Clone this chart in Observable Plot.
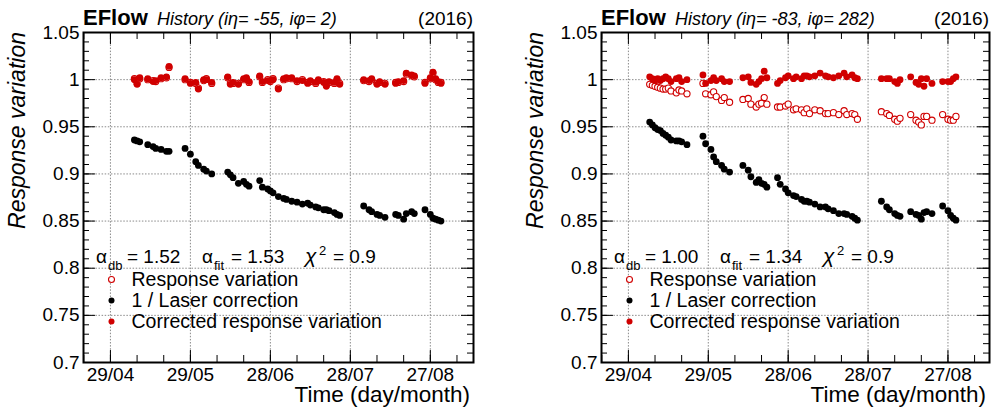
<!DOCTYPE html>
<html><head><meta charset="utf-8">
<script src="https://cdn.jsdelivr.net/npm/d3@7"></script>
<script src="https://cdn.jsdelivr.net/npm/@observablehq/plot@0.6"></script>
<style>
body{margin:0;background:#fff;}
#wrap{position:relative;width:993px;height:412px;font-family:"Liberation Sans",Arial,sans-serif;}
#wrap svg{position:absolute;top:0;overflow:visible;}
</style></head><body><div id="wrap"></div>
<script>
// ---------- data ----------
const startDate = "2016-04-29";           // day 0
const tickDays = [0, 30, 60, 90, 120];
const tickLabels = ["29/04", "29/05", "28/06", "28/07", "27/08"];
const yTicks = [0.7, 0.75, 0.8, 0.85, 0.9, 0.95, 1.0, 1.05];
const yTickLabels = ["0.7", "0.75", "0.8", "0.85", "0.9", "0.95", "1", "1.05"];

// left panel (iη=-55, iφ=2)
const leftDays = [9,10,11,14,16,17,19,21,22,28,30,32,33,35,36,38,44,45,46,48,50,51,52,56,57,59,60,61,63,65,66,68,70,72,74,75,77,78,80,81,82,84,85,86,95,97,98,100,101,103,107,108,110,111,113,114,118,120,121,122,123,124];
const leftLaser = [0.936,0.935,0.934,0.931,0.929,0.927,0.926,0.924,0.924,0.927,0.921,0.913,0.909,0.905,0.903,0.900,0.902,0.899,0.896,0.890,0.892,0.889,0.887,0.893,0.886,0.884,0.882,0.880,0.876,0.874,0.873,0.871,0.870,0.868,0.869,0.867,0.865,0.864,0.862,0.862,0.861,0.859,0.857,0.856,0.866,0.862,0.860,0.857,0.856,0.854,0.857,0.856,0.852,0.858,0.860,0.858,0.862,0.857,0.853,0.852,0.851,0.850];
const leftResponse = [1.001,0.996,1.001,1.000,0.999,0.998,1.001,1.002,1.013,1.000,0.997,0.996,0.991,0.999,1.001,0.996,1.002,0.996,0.996,0.996,1.000,1.001,0.997,1.003,0.997,1.000,0.998,1.001,0.991,1.000,1.001,1.001,0.998,1.000,0.997,0.998,0.996,0.999,0.998,0.994,0.997,0.996,1.000,0.996,0.999,0.998,1.000,0.996,0.997,0.996,0.997,0.997,0.998,1.006,1.004,1.003,0.997,1.001,1.007,1.000,0.997,0.997];
const leftCorrected = [1.000,0.995,1.002,1.001,0.998,0.999,1.002,1.003,1.014,1.001,0.996,0.997,0.990,1.000,1.000,0.997,1.003,0.995,0.997,0.995,1.001,1.002,0.998,1.004,0.998,0.999,0.999,1.000,0.990,1.001,1.002,1.002,0.999,0.999,0.996,0.999,0.997,1.000,0.997,0.993,0.998,0.997,1.001,0.995,1.000,0.999,1.001,0.995,0.998,0.995,0.996,0.998,0.999,1.007,1.005,1.004,0.996,1.002,1.008,1.001,0.998,0.996];

// right panel (iη=-83, iφ=282)
const rightDays = [8,9,10,11,12,13,14,15,16,18,19,20,22,28,29,31,32,33,35,36,38,43,45,46,48,49,50,51,52,56,57,59,60,62,63,65,66,67,68,70,72,74,75,77,79,81,82,84,85,86,95,97,98,100,101,102,106,108,109,110,111,112,114,118,120,121,122,123];
const rightLaser = [0.955,0.952,0.949,0.947,0.946,0.943,0.941,0.939,0.936,0.935,0.935,0.934,0.931,0.940,0.932,0.926,0.918,0.913,0.909,0.905,0.902,0.909,0.904,0.897,0.891,0.894,0.890,0.889,0.886,0.896,0.889,0.884,0.880,0.877,0.876,0.873,0.871,0.871,0.870,0.868,0.865,0.865,0.863,0.861,0.858,0.858,0.857,0.855,0.853,0.851,0.871,0.865,0.862,0.858,0.856,0.855,0.860,0.857,0.856,0.852,0.859,0.860,0.858,0.866,0.861,0.856,0.853,0.851];
const rightResponse = [0.995,0.994,0.993,0.992,0.991,0.990,0.990,0.991,0.988,0.986,0.989,0.988,0.985,0.996,0.985,0.984,0.987,0.982,0.978,0.981,0.976,0.979,0.980,0.974,0.971,0.974,0.975,0.981,0.974,0.971,0.971,0.972,0.974,0.968,0.969,0.968,0.965,0.969,0.964,0.968,0.967,0.964,0.964,0.965,0.963,0.967,0.963,0.964,0.963,0.958,0.966,0.964,0.962,0.958,0.956,0.959,0.963,0.957,0.955,0.952,0.961,0.961,0.957,0.963,0.958,0.957,0.957,0.961];
const rightCorrected = [1.003,1.001,0.999,1.001,0.999,1.001,1.003,1.001,0.998,1.001,1.002,0.998,1.000,1.005,0.996,0.999,1.002,0.999,1.001,0.998,0.998,1.002,1.003,0.997,0.995,0.998,1.001,1.009,1.002,0.996,0.999,1.002,1.004,1.001,1.003,1.001,1.004,1.004,1.003,1.004,1.007,1.004,1.003,1.002,1.004,1.007,1.003,1.005,1.002,1.001,1.001,1.001,1.001,0.998,0.996,1.000,1.003,0.997,0.995,1.001,0.993,1.001,0.996,0.998,0.998,0.998,1.001,1.003];

const panels = [
  {left: 0, width: 500, marginRight: 27, xMax: 136.2, days: leftDays, laser: leftLaser, response: leftResponse, corrected: leftCorrected,
   eta: "-55", phi: "2", adb: "1.52", afit: "1.53", chi2: "0.9"},
  {left: 518, width: 475, marginRight: 4, xMax: 135.6, days: rightDays, laser: rightLaser, response: rightResponse, corrected: rightCorrected,
   eta: "-83", phi: "282", adb: "1.00", afit: "1.34", chi2: "0.9"}
];

// ---------- drawing ----------
const RED = "#d00000";
const FONT = '"Liberation Sans", Arial, Helvetica, sans-serif';
const base = new Date(startDate + "T00:00:00Z").getTime();
const toDate = d => new Date(base + d * 864e5);
const yMinor = d3.range(70, 106).map(v => v / 100);
const xMinor = d3.range(-10, 140, 10);
const ML = 83, MT = 32, MB = 50, H = 412;

for (const p of panels) {
  const fw = p.width - ML - p.marginRight, fh = H - MT - MB;
  const rows = p.days.map((d, i) => ({t: toDate(d), laser: p.laser[i], response: p.response[i], corrected: p.corrected[i]}));
  const grid = {stroke: "#8a8a8a", strokeDasharray: "1.5,1.6", strokeWidth: 1};
  const svg = Plot.plot({
    width: p.width, height: H,
    marginLeft: ML, marginRight: p.marginRight, marginTop: MT, marginBottom: MB,
    style: {fontFamily: FONT, fontSize: "19px", color: "#000", background: "transparent", overflow: "visible"},
    x: {type: "utc", domain: [toDate(-10.1), toDate(p.xMax)]},
    y: {domain: [0.7, 1.05]},
    marks: [
      Plot.ruleX(tickDays.map(toDate), grid),
      Plot.ruleY(yTicks, grid),
      Plot.ruleY(yMinor, {y: d => d, insetRight: fw - 6, stroke: "#000"}),
      Plot.ruleY(yMinor, {y: d => d, insetLeft: fw - 6, stroke: "#000"}),
      Plot.ruleY(yTicks, {y: d => d, insetRight: fw - 12, stroke: "#000"}),
      Plot.ruleY(yTicks, {y: d => d, insetLeft: fw - 12, stroke: "#000"}),
      Plot.ruleX(xMinor.map(toDate), {x: d => d, insetTop: fh - 7, stroke: "#000"}),
      Plot.ruleX(xMinor.map(toDate), {x: d => d, insetBottom: fh - 7, stroke: "#000"}),
      Plot.ruleX(tickDays.map(toDate), {x: d => d, insetTop: fh - 12, stroke: "#000"}),
      Plot.ruleX(tickDays.map(toDate), {x: d => d, insetBottom: fh - 12, stroke: "#000"}),
      Plot.axisY(yTicks, {tickSize: 0, tickPadding: 4, tickFormat: (d) => yTickLabels[yTicks.indexOf(d)], label: null, fontSize: 19}),
      Plot.axisX(tickDays.map(toDate), {tickSize: 0, tickPadding: 5, tickFormat: (d) => tickLabels[tickDays.indexOf(Math.round((d - base) / 864e5))], label: null, fontSize: 19}),
      Plot.dot(rows, {x: "t", y: "response", r: 3.1, stroke: RED, strokeWidth: 1.1, fill: "white"}),
      Plot.dot(rows, {x: "t", y: "laser", r: 3.4, fill: "#000", stroke: "none"}),
      Plot.dot(rows, {x: "t", y: "corrected", r: 3.4, fill: RED, stroke: "none"}),
      Plot.frame({stroke: "#000", strokeWidth: 2})
    ]
  });
  svg.style.left = p.left + "px";
  document.getElementById("wrap").appendChild(svg);

  const s = d3.select(svg);
  const g = s.append("g").attr("font-family", FONT).attr("fill", "#000").attr("text-anchor", "start");
  // title
  const t = g.append("text").attr("x", ML).attr("y", 25);
  t.append("tspan").attr("font-weight", "bold").attr("font-size", 22).text("EFlow");
  t.append("tspan").attr("x", ML + 74).attr("font-style", "italic").attr("font-size", 18)
    .text(`History (i\u03B7= ${p.eta}, i\u03C6= ${p.phi})`);
  g.append("text").attr("x", p.width - p.marginRight).attr("y", 25).attr("text-anchor", "end")
    .attr("font-size", 19).text("(2016)");
  // axis titles
  g.append("text").attr("transform", `translate(25,${MT}) rotate(-90)`).attr("text-anchor", "end")
    .attr("font-style", "italic").attr("font-size", 23).text("Response variation");
  g.append("text").attr("x", p.width - p.marginRight - 3).attr("y", 402).attr("text-anchor", "end")
    .attr("font-size", 22.5).text("Time (day/month)");
  // fit annotation
  const a = g.append("text").attr("y", 263).attr("font-size", 19);
  a.append("tspan").attr("x", ML + 13).text("\u03B1");
  a.append("tspan").attr("x", ML + 25).attr("dy", 7).attr("font-size", 13).text("db");
  a.append("tspan").attr("x", ML + 44).attr("dy", -7).text(`= ${p.adb}`);
  a.append("tspan").attr("x", ML + 119).text("\u03B1");
  a.append("tspan").attr("x", ML + 131).attr("dy", 7).attr("font-size", 13).text("fit");
  a.append("tspan").attr("x", ML + 148).attr("dy", -7).text(`= ${p.afit}`);
  a.append("tspan").attr("x", ML + 222).attr("font-style", "italic").attr("font-size", 21).text("\u03C7");
  a.append("tspan").attr("x", ML + 236).attr("dy", -8).attr("font-size", 13).text("2");
  a.append("tspan").attr("x", ML + 250).attr("dy", 8).text(`= ${p.chi2}`);
  // legend
  const items = [
    {label: "Response variation", fill: "white", stroke: RED},
    {label: "1 / Laser correction", fill: "#000", stroke: "none"},
    {label: "Corrected response variation", fill: RED, stroke: "none"}
  ];
  items.forEach((it, i) => {
    const cy = 279.5 + i * 21;
    g.append("circle").attr("cx", ML + 28.5).attr("cy", cy).attr("r", 3)
      .attr("fill", it.fill).attr("stroke", it.stroke).attr("stroke-width", 1.1);
    g.append("text").attr("x", ML + 48.5).attr("y", cy + 6.5).attr("font-size", 19.5).text(it.label);
  });
}
</script></body></html>
